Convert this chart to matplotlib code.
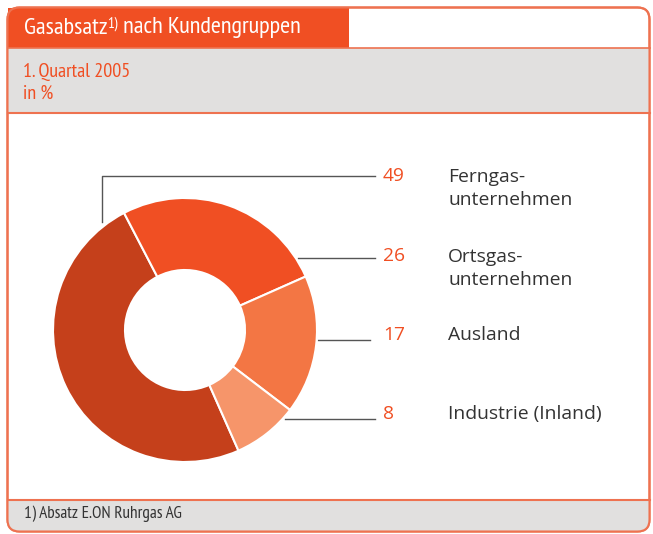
import matplotlib
matplotlib.use("Agg")
import matplotlib.pyplot as plt
from matplotlib.patches import FancyBboxPatch, Rectangle

# data
categories = ["Ferngas-\nunternehmen", "Ortsgas-\nunternehmen", "Ausland", "Industrie (Inland)"]
shares = [49, 26, 17, 8]
slice_colors = ["#C5401B", "#F04F23", "#F37644", "#F6956A"]
title = "Gasabsatz"
title_note = "1)"
title_rest = " nach Kundengruppen"
subtitle = ["1. Quartal 2005", "in %"]
footnote = "1) Absatz E.ON Ruhrgas AG"

ORANGE = "#F04F23"
GRAY = "#E1E0DF"
BORDER = "#EE7250"
TEXT = "#333333"
narrow = ["PT Sans Narrow", "DejaVu Sans"]
label_font = ["Open Sans", "DejaVu Sans"]

W, H = 653, 534
fig = plt.figure(figsize=(W / 100, H / 100), dpi=100)
ax = fig.add_axes([0, 0, 1, 1])
ax.set_xlim(0, W)
ax.set_ylim(H, 0)
ax.axis("off")

# frame, header bands, footer
ax.add_patch(FancyBboxPatch((7.5, 7.5), 642, 524, boxstyle="round,pad=0,rounding_size=12",
                            fc="white", ec=BORDER, lw=1.5, zorder=1))
ax.add_patch(Rectangle((7.5, 7.5), 341, 40, fc=ORANGE, ec="none", zorder=2))
ax.add_patch(Rectangle((7.5, 47.5), 642, 65, fc=GRAY, ec="none", zorder=2))
ax.plot([7.5, 649.5], [47.5, 47.5], color=BORDER, lw=1.2, zorder=3)
ax.plot([7.5, 649.5], [113, 113], color=BORDER, lw=1.5, zorder=3)
ax.add_patch(FancyBboxPatch((7.5, 499.5), 642, 32, boxstyle="round,pad=0,rounding_size=10",
                            fc=GRAY, ec="none", zorder=2))
ax.add_patch(Rectangle((7.5, 499.5), 642, 12, fc=GRAY, ec="none", zorder=2))
ax.plot([7.5, 649.5], [499.5, 499.5], color=BORDER, lw=1.5, zorder=3)
ax.add_patch(FancyBboxPatch((7.5, 7.5), 642, 524, boxstyle="round,pad=0,rounding_size=12",
                            fc="none", ec=BORDER, lw=1.5, zorder=4))

# title with superscript note
renderer = fig.canvas.get_renderer()
t1 = ax.text(24, 28, title, color="white", fontsize=17.5, family=narrow, va="center", zorder=5)
bb = t1.get_window_extent(renderer)
t2 = ax.annotate(title_note, xy=(bb.x1, H - 24), xycoords="figure pixels", color="white",
                 fontsize=11, family=narrow, va="center", zorder=5)
bb2 = t2.get_window_extent(renderer)
ax.annotate(title_rest, xy=(bb2.x1, H - 28), xycoords="figure pixels", color="white",
            fontsize=17.5, family=narrow, va="center", zorder=5)

for i, line in enumerate(subtitle):
    ax.text(23, 72 + i * 22, line, color=ORANGE, fontsize=14.5, family=narrow, va="center", zorder=5)

ax.text(24, 514, footnote, color=TEXT, fontsize=12.4, family=narrow, va="center", zorder=5)

# donut
cx, cy, r = 185, 330, 132
pax = fig.add_axes([(cx - r) / W, (H - cy - r) / H, 2 * r / W, 2 * r / H])
pax.pie(shares, colors=slice_colors, startangle=-66.1, counterclock=False, radius=1,
        wedgeprops=dict(width=(r - 60) / r, edgecolor="white", linewidth=1.5))
pax.set_xlim(-1, 1)
pax.set_ylim(-1, 1)
pax.set_aspect("equal")
pax.axis("off")

# leader lines, values and labels
label_y = [176, 256, 335, 414]
leaders = [([102, 102, 375], [222, 176, 176]),
           ([298, 375], [258, 258]),
           ([318, 370], [340, 340]),
           ([285, 375], [419, 419])]
for (xs, ys), y, val, cat in zip(leaders, label_y, shares, categories):
    ax.plot(xs, ys, color="#555555", lw=1, zorder=5)
    ax.text(383, y, str(val), color=ORANGE, fontsize=13.8, family=label_font, va="center", zorder=5)
    n = cat.count("\n")
    ax.text(448, y + n * 12.5, cat, color=TEXT, fontsize=13.9, family=label_font, va="center",
            linespacing=1.38, zorder=5)

fig.savefig("out.png", dpi=100)
